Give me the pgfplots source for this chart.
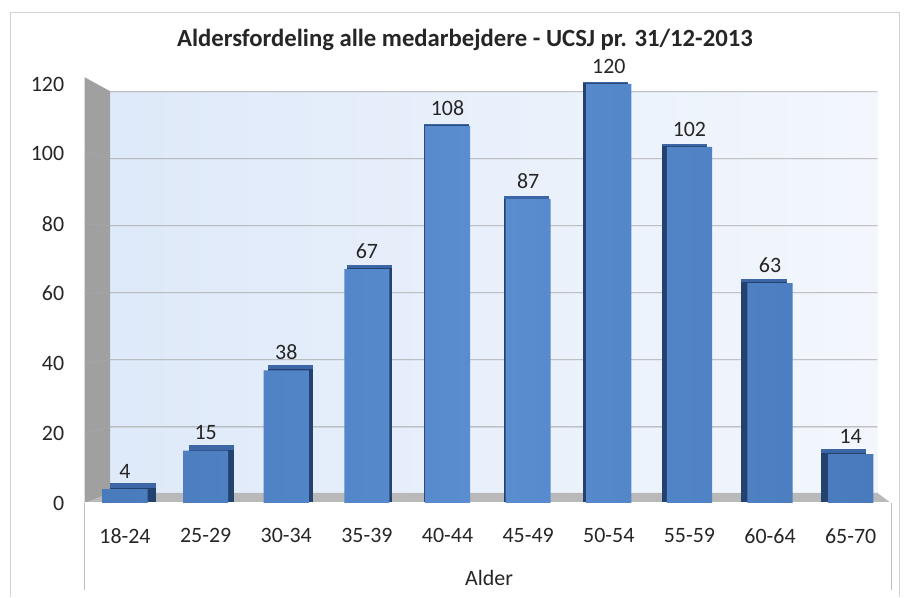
\documentclass[border=0pt]{standalone}
\usepackage{fontspec}
\setmainfont{Carlito}
\usepackage{pgfplots}
\pgfplotsset{compat=1.18}
\definecolor{barA}{RGB}{72,122,188}
\definecolor{barB}{RGB}{90,142,208}
\definecolor{barSide}{RGB}{36,66,112}
\definecolor{barTop}{RGB}{60,102,166}
\definecolor{wallgray}{RGB}{160,160,160}
\definecolor{floorgray}{RGB}{185,185,185}
\definecolor{bgA}{RGB}{222,233,249}
\definecolor{bgB}{RGB}{243,247,253}
\definecolor{txt}{RGB}{38,38,38}
\pgfplotsset{
  side/.style={ybar, bar width=0.56, fill=barSide, draw=none},
  topf/.style={ybar, bar width=0.56, fill=barTop, draw=none}}
\begin{document}
\begin{tikzpicture}
\path[fill=white] (0bp,0bp) rectangle (906bp,597bp);
\draw[gray!35, line width=0.8bp] (10bp,0bp) -- (10bp,585bp) -- (899bp,585bp) -- (899bp,0bp);
\node[font=\fontsize{24.8}{28}\selectfont\bfseries, text=txt] at (465bp,557bp) {Aldersfordeling alle medarbejdere - UCSJ pr. 31/12-2013};
\node[font=\fontsize{22}{26}\selectfont, text=txt] at (489bp,19bp) {Alder};
\draw[gray!50, line width=0.8bp] (84.7bp,7bp) -- (84.7bp,94bp);
\draw[gray!50, line width=0.8bp] (891bp,7bp) -- (891bp,94bp);
\begin{axis}[
  at={(84.7bp,94bp)}, anchor=south west,
  scale only axis, width=806.3bp, height=429.5bp,
  xmin=-0.5, xmax=9.5, ymin=0, ymax=123,
  clip=false,
  axis line style={draw=none},
  major tick length=0pt,
  ytick={0,20,40,60,80,100,120},
  xtick={0,1,2,3,4,5,6,7,8,9},
  xticklabels={18-24,25-29,30-34,35-39,40-44,45-49,50-54,55-59,60-64,65-70},
  /pgf/number format/assume math mode=true,
  tick label style={font=\fontsize{22}{26}\selectfont, text=txt},
  yticklabel style={xshift=-17bp},
  xticklabel style={yshift=-22bp},
]
% back wall
\fill[left color=bgA, right color=bgB] (axis cs:-0.186,2.6) rectangle (axis cs:9.33,117.8);
% left wall
\fill[wallgray] (axis cs:-0.5,0) -- (axis cs:-0.186,2.6) -- (axis cs:-0.186,117.8) -- (axis cs:-0.5,121.8) -- cycle;
% floor
\fill[floorgray] (axis cs:-0.5,0) -- (axis cs:-0.186,2.9) -- (axis cs:9.33,2.9) -- (axis cs:9.5,0) -- cycle;
\draw[white, line width=1bp] (axis cs:-0.5,0) -- (axis cs:9.5,0);
% gridlines
\draw[gray!70, line width=0.8bp] (axis cs:-0.5,20) -- (axis cs:-0.186,21.8) -- (axis cs:9.33,21.8);
\draw[gray!70, line width=0.8bp] (axis cs:-0.5,40) -- (axis cs:-0.186,41.0) -- (axis cs:9.33,41.0);
\draw[gray!70, line width=0.8bp] (axis cs:-0.5,60) -- (axis cs:-0.186,60.2) -- (axis cs:9.33,60.2);
\draw[gray!70, line width=0.8bp] (axis cs:-0.5,80) -- (axis cs:-0.186,79.4) -- (axis cs:9.33,79.4);
\draw[gray!70, line width=0.8bp] (axis cs:-0.5,100.5) -- (axis cs:-0.186,98.6) -- (axis cs:9.33,98.6);
\draw[gray!70, line width=0.8bp] (axis cs:-0.5,121.8) -- (axis cs:-0.186,117.8) -- (axis cs:9.33,117.8);
% bar tops (shifted back and up)
\addplot[topf, bar shift=8bp,   yshift=6bp]   coordinates {(0,4)};
\addplot[topf, bar shift=6bp,   yshift=6bp]   coordinates {(1,15)};
\addplot[topf, bar shift=4bp,   yshift=5bp]   coordinates {(2,38)};
\addplot[topf, bar shift=3bp,   yshift=4bp]   coordinates {(3,67)};
\addplot[topf, bar shift=-1bp,  yshift=2bp]   coordinates {(4,108)};
\addplot[topf, bar shift=-1.5bp,yshift=3bp]   coordinates {(5,87)};
\addplot[topf, bar shift=-3bp,  yshift=1.5bp] coordinates {(6,120)};
\addplot[topf, bar shift=-5bp,  yshift=2.5bp] coordinates {(7,102)};
\addplot[topf, bar shift=-6bp,  yshift=4bp]   coordinates {(8,63)};
\addplot[topf, bar shift=-7bp,  yshift=5.5bp] coordinates {(9,14)};
% bar sides
\addplot[side, bar shift=8bp,   yshift=1bp] coordinates {(0,4)};
\addplot[side, bar shift=6bp,   yshift=1bp] coordinates {(1,15)};
\addplot[side, bar shift=4bp,   yshift=1bp] coordinates {(2,38)};
\addplot[side, bar shift=3bp,   yshift=1bp] coordinates {(3,67)};
\addplot[side, bar shift=-1bp,  yshift=0.5bp] coordinates {(4,108)};
\addplot[side, bar shift=-1.5bp,yshift=0.5bp] coordinates {(5,87)};
\addplot[side, bar shift=-3bp,  yshift=0.5bp] coordinates {(6,120)};
\addplot[side, bar shift=-5bp,  yshift=1bp] coordinates {(7,102)};
\addplot[side, bar shift=-6bp,  yshift=1bp] coordinates {(8,63)};
\addplot[side, bar shift=-7bp,  yshift=1bp] coordinates {(9,14)};
% bar fronts
\addplot[ybar, bar width=0.56, bar shift=0pt, draw=none,
  left color=barA, right color=barA, middle color=barB,
  nodes near coords,
  every node near coord/.append style={font=\fontsize{22}{26}\selectfont, text=txt, yshift=7bp}]
  coordinates {(0,4) (1,15) (2,38) (3,67) (4,108) (5,87) (6,120) (7,102) (8,63) (9,14)};
\end{axis}
\end{tikzpicture}
\end{document}
